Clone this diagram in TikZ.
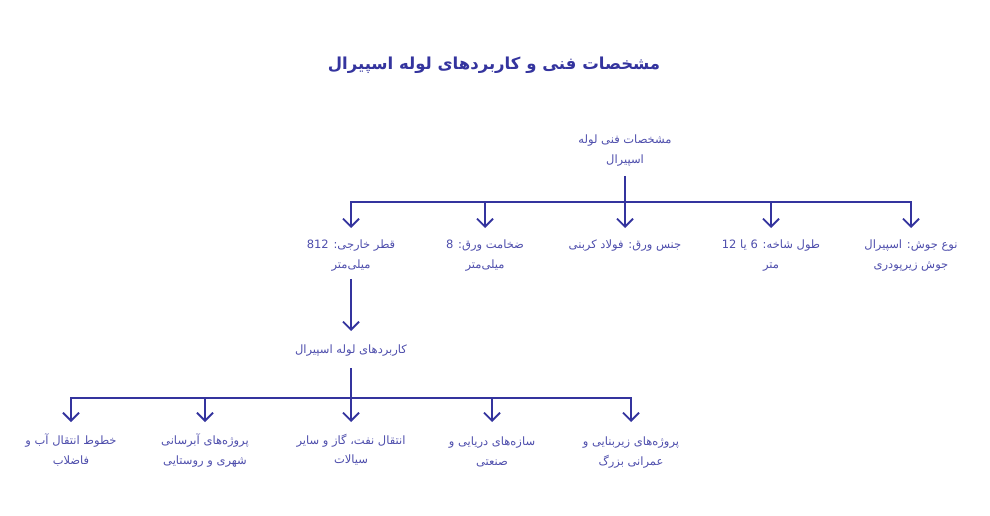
\documentclass[tikz,border=0pt]{standalone}
\usepackage{fontspec}
\usetikzlibrary{arrows.meta}
\TeXXeTstate=1
\newfontfamily\arabicfont[Script=Arabic]{DejaVu Sans}
\definecolor{inkblue}{RGB}{52,52,158}
\definecolor{textblue}{RGB}{78,78,172}

\begin{document}
\begin{tikzpicture}[x=1pt,y=-1pt,->,>={Straight Barb[length=8pt,width=16pt]},line width=1.8pt,color=inkblue,
  item/.style={align=center,text=textblue,anchor=north,inner sep=3pt,font=\arabicfont\fontsize{11.5}{19.5}\selectfont},
  title/.style={text=inkblue,font=\arabicfont\bfseries\fontsize{16.5}{20}\selectfont}]
            \useasboundingbox (0,0) rectangle (990,516);
            \node[title] (0) at (494,65) {\beginR مشخصات فنی و کاربردهای لوله اسپیرال\endR};

            \node[item] (1) at (625,131) {\beginR مشخصات فنی لوله\endR\\\beginR اسپیرال\endR};
            \node[item] (2) at (351,236) {\beginR قطر خارجی: 812\endR\\\beginR میلی‌متر\endR};
            \node[item] (3) at (485,236) {\beginR ضخامت ورق: 8\endR\\\beginR میلی‌متر\endR};
            \node[item] (4) at (625,236) {\beginR جنس ورق: فولاد کربنی\endR};
            \node[item] (5) at (771,236) {\beginR طول شاخه: 6 یا 12\endR\\\beginR متر\endR};
            \node[item] (6) at (911,236) {\beginR نوع جوش: اسپیرال\endR\\\beginR جوش زیرپودری\endR};
            \node[item] (7) at (351,341) {\beginR کاربردهای لوله اسپیرال\endR};
            \node[item] (8) at (71,430) {\beginR خطوط انتقال آب و\endR\\\beginR فاضلاب\endR};
            \node[item] (9) at (205,430) {\beginR پروژه‌های آبرسانی\endR\\\beginR شهری و روستایی\endR};
            \node[item] (10) at (351,430) {\beginR انتقال نفت، گاز و سایر\endR\\\beginR سیالات\endR};
            \node[item] (11) at (492,433) {\beginR سازه‌های دریایی و\endR\\\beginR صنعتی\endR};
            \node[item] (12) at (631,433) {\beginR پروژه‌های زیربنایی و\endR\\\beginR عمرانی بزرگ\endR};

            \coordinate (j1) at (625,202);
            \coordinate (j2) at (351,398);

            \draw[-,shorten <=6pt] (1) -- (j1);
            \draw[shorten >=8pt] (j1) -| (2);
            \draw[shorten >=8pt] (j1) -| (3);
            \draw[shorten >=8pt] (j1) -- (4);
            \draw[shorten >=8pt] (j1) -| (5);
            \draw[shorten >=8pt] (j1) -| (6);
            \draw[shorten <=4pt,shorten >=10pt] (2) -- (7);
            \draw[-,shorten <=8pt] (7) -- (j2);
            \draw[shorten >=8pt] (j2) -| (8);
            \draw[shorten >=8pt] (j2) -| (9);
            \draw[shorten >=8pt] (j2) -- (10);
            \draw[shorten >=11pt] (j2) -| (11);
            \draw[shorten >=11pt] (j2) -| (12);
        \end{tikzpicture}
\end{document}
